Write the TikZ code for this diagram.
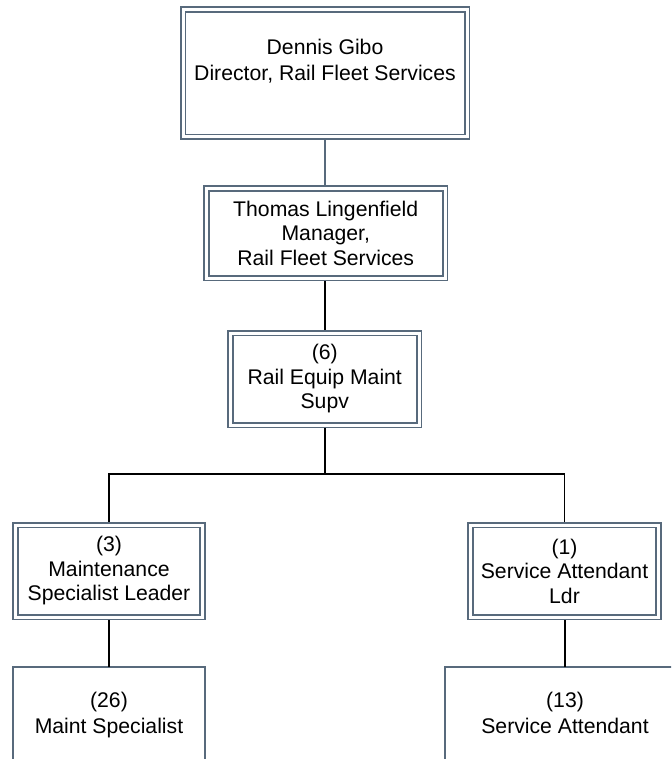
\documentclass[tikz,border=0pt]{standalone}
\usepackage{fontspec}
\setmainfont{Liberation Sans}
\definecolor{boxc}{RGB}{88,106,124}
\begin{document}
\begin{tikzpicture}[x=1pt,y=-1pt,
  dbox/.style={draw=boxc, line width=1.6pt, double=white, double distance=3pt,
    fill=white, inner sep=0pt, outer sep=3.1pt, align=center,
    font=\fontsize{21.2}{24.5}\selectfont},
  sbox/.style={draw=boxc, line width=1.6pt, fill=white},
  txt/.style={inner sep=0pt, align=center, font=\fontsize{21.2}{26}\selectfont},
  conn/.style={line width=1.8pt, black},
  tconn/.style={line width=1.8pt, boxc}]
\useasboundingbox (0,0) rectangle (671,759);
\clip (0,0) rectangle (671,759);
% bottom boxes (open at bottom)
\draw[sbox] (13,800) -- (13,667) -- (205,667) -- (205,800);
\draw[sbox] (445,800) -- (445,667) -- (685,667) -- (685,800);
\coordinate (lbtop) at (109,667);
\coordinate (rbtop) at (565,667);
\node[txt, anchor=north] (lbtext) at (109,691.5) {(26)\\Maint Specialist};
\node[txt, anchor=north] (rbtext) at (565,691.5) {(13)\\Service Attendant};
% double boxes
\node[dbox, minimum width=284pt, minimum height=127.5pt] (dir) at (325,73.25) {};
\node[txt, anchor=north] (dirtext) at (325,38.5) {Dennis Gibo\\Director, Rail Fleet Services};
\node[dbox, minimum width=238.5pt, minimum height=89.5pt] (mgr) at (325.75,233.25)
  {Thomas Lingenfield\\Manager,\\Rail Fleet Services};
\node[dbox, minimum width=188.5pt, minimum height=92pt] (sup) at (324.75,379)
  {(6)\\Rail Equip Maint\\Supv};
\node[dbox, minimum width=187pt, minimum height=92pt] (msl) at (109,571)
  {(3)\\Maintenance\\Specialist Leader};
\node[dbox, minimum width=188pt, minimum height=92pt] (sal) at (564.5,571)
  {(1)\\Service Attendant\\Ldr};
% connectors
\draw[tconn] (dir.south -| 325,0) -- (mgr.north -| 325,0);
\draw[conn] (mgr.south -| 325,0) -- (sup.north -| 325,0);
\coordinate (junc) at (325,474);
\draw[conn] (sup.south -| 325,0) -- (junc);
\draw[conn] (msl.north) |- (junc) -| (sal.north);
\draw[conn] (msl.south) -- (lbtop);
\draw[conn] (sal.south -| 565,0) -- (rbtop);
\end{tikzpicture}
\end{document}
